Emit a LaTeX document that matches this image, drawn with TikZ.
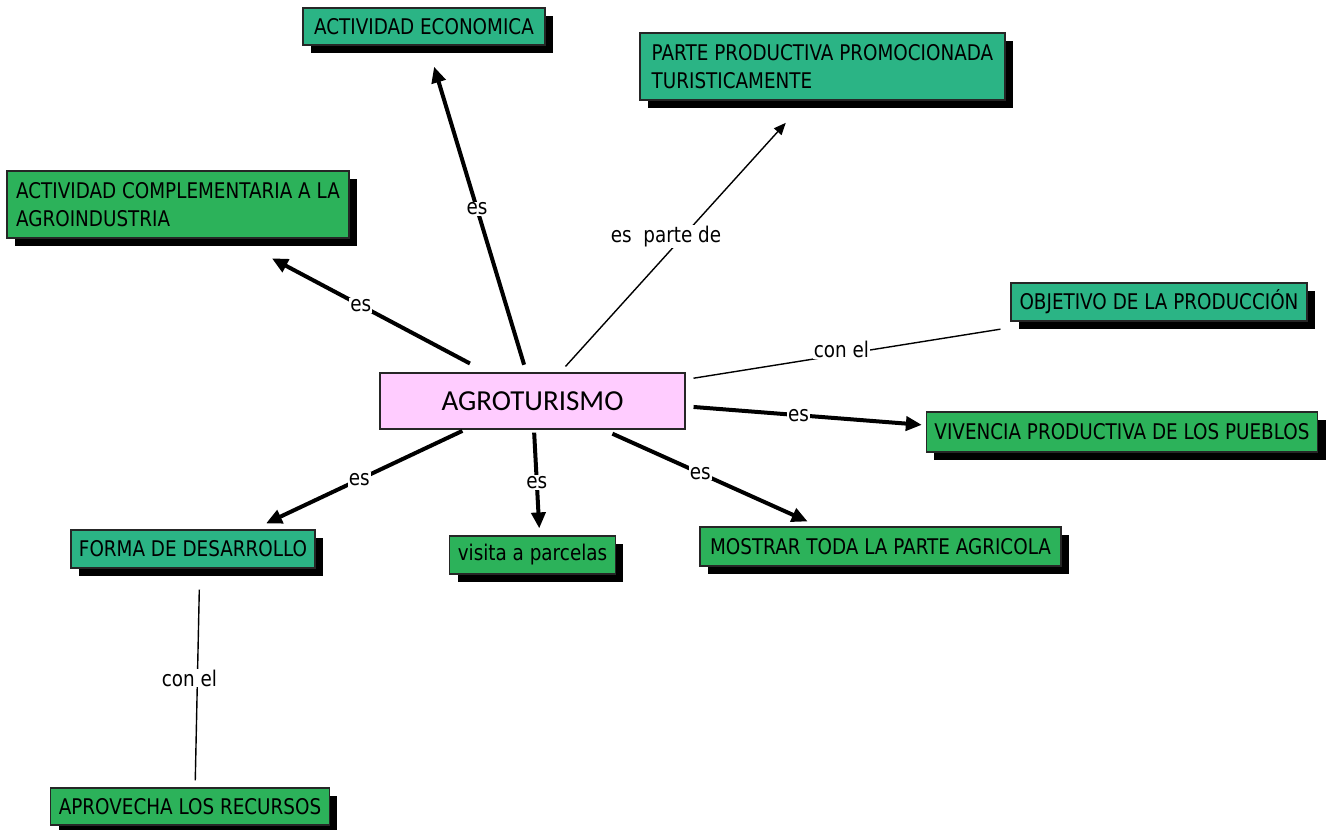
\documentclass[tikz,border=0pt]{standalone}
\usepackage{fontspec}
\setmainfont[FakeStretch=0.85]{DejaVu Sans}
\newfontfamily\calibrifont{Carlito}
\usetikzlibrary{arrows.meta}
\usetikzlibrary{shadows}

\definecolor{tealbox}{RGB}{43,180,133}
\definecolor{greenbox}{RGB}{44,178,90}
\definecolor{pinkbox}{RGB}{255,204,255}

\tikzset{
  concept/.style={draw=black!85,line width=0.6pt,inner xsep=4pt,inner ysep=0pt,align=left,
    font=\fontsize{10.8}{14}\selectfont,
    general shadow={fill=black,shadow xshift=4pt,shadow yshift=-4pt}},
  tealconcept/.style={concept,fill=tealbox},
  greenconcept/.style={concept,fill=greenbox},
  link/.style={line width=2pt,-{Triangle[length=8pt,width=7pt]}},
  thinlink/.style={line width=0.7pt},
  linklabel/.style={fill=white,inner sep=0.5pt,font=\fontsize{10.8}{13}\selectfont}
}

\begin{document}
\begin{tikzpicture}[x=0.5pt,y=-0.5pt]
  \useasboundingbox (0,0) rectangle (1330,830);
  %centre
  \node[draw=black!85,fill=pinkbox,line width=0.6pt,minimum width=152.5pt,minimum height=28pt,font=\calibrifont\fontsize{14.5}{16}\selectfont] (agro) at (532.5,401) {AGROTURISMO};
  %upper concepts
  \node[tealconcept,minimum width=121pt,minimum height=18.5pt] (economica) at (424,26.5) {ACTIVIDAD ECONOMICA};
  \node[tealconcept,minimum width=182.5pt,minimum height=33.5pt] (parte) at (822.5,66.5) {PARTE PRODUCTIVA PROMOCIONADA\\TURISTICAMENTE};
  \node[greenconcept,minimum width=171pt,minimum height=33.5pt] (complementaria) at (178,204.5) {ACTIVIDAD COMPLEMENTARIA A LA\\AGROINDUSTRIA};
  \node[tealconcept,minimum width=148pt,minimum height=19pt] (objetivo) at (1159,302) {OBJETIVO DE LA PRODUCCIÓN};
  \node[greenconcept,minimum width=194pt,minimum height=20pt] (vivencia) at (1122,432) {VIVENCIA PRODUCTIVA DE LOS PUEBLOS};
  %lower concepts
  \node[tealconcept,minimum width=120pt,minimum height=19pt] (forma) at (193,549) {FORMA DE DESARROLLO};
  \node[greenconcept,minimum width=79.5pt,minimum height=19pt] (visita) at (532.5,555) {visita a parcelas};
  \node[greenconcept,minimum width=180.5pt,minimum height=19.5pt] (mostrar) at (880.5,546.5) {MOSTRAR TODA LA PARTE AGRICOLA};
  \node[greenconcept,minimum width=138pt,minimum height=18.5pt] (aprovecha) at (190,806.5) {APROVECHA LOS RECURSOS};

  %links
  \draw[link,shorten <=4pt,shorten >=11pt] (agro.102) -- node[linklabel]{es} (economica.-79);
  \draw[thinlink,-{Triangle[length=6pt,width=5pt]},shorten <=4pt,shorten >=15pt] (agro.46) -- node[linklabel,xshift=-8.5pt]{es\ \ parte de} (parte.-116);
  \draw[link,shorten <=9.5pt,shorten >=21pt] (agro.148) -- node[linklabel]{es} (complementaria.-31);
  \draw[thinlink,shorten <=4pt,shorten >=24pt] (agro.8) -- node[linklabel,pos=0.43,yshift=2.5pt]{con el} (objetivo.-170);
  \draw[link,shorten <=4pt,shorten >=2pt] (agro.-2.4) -- node[linklabel,pos=0.47]{es} (vivencia.178);
  \draw[link,shorten <=1.5pt,shorten >=7pt] (agro.-157) -- node[linklabel]{es} (forma.18);
  \draw[link,shorten <=1.5pt,shorten >=3.5pt] (agro.-87) -- node[linklabel]{es} (visita.70);
  \draw[link,shorten <=5pt,shorten >=6pt] (agro.-22) -- node[linklabel,pos=0.45]{es} (mostrar.162);
  \draw[thinlink,shorten <=10.5pt,shorten >=3.5pt] (forma.-71) -- node[linklabel,xshift=-4pt]{con el} (aprovecha.75);
\end{tikzpicture}
\end{document}
